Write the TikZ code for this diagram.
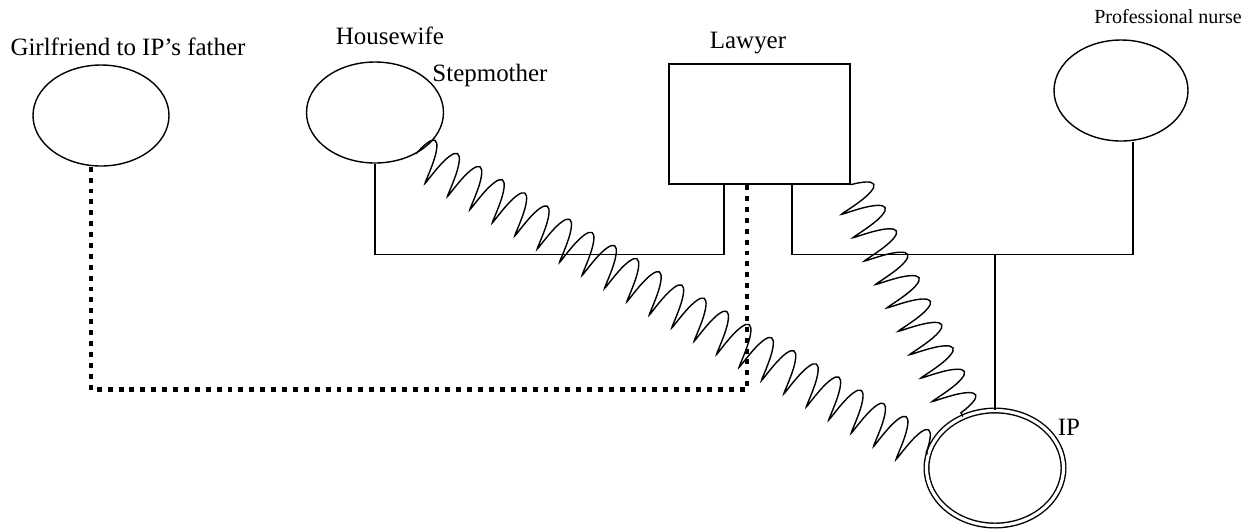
\documentclass[tikz,border=0pt]{standalone}
\usepackage{fontspec}
\setmainfont{Liberation Serif}
\usetikzlibrary{shapes.geometric,decorations.pathmorphing}

\begin{document}
\begin{tikzpicture}[
            per/.style={draw,ellipse,line width=0.8pt,inner sep=0pt},
            ml/.style={draw,rectangle,line width=0.8pt,inner sep=0pt},
            lab/.style={inner sep=0pt,font=\fontsize{14.2}{16}\selectfont},
            tie/.style={line width=0.8pt},
            dots/.style={line width=2.8pt,dash pattern=on 2.8pt off 3.4pt},
            coilln/.style={line width=0.8pt,decorate,
              decoration={coil,amplitude=0.42cm,segment length=0.52cm,aspect=0.15}}]

            \useasboundingbox (0,0) rectangle (25.06,-10.58);

            % the family members
            \node[per,minimum width=2.72cm,minimum height=2.02cm] (gf) at (2.02,-2.31) {};
            \node[per,minimum width=2.74cm,minimum height=2.02cm] (hw) at (7.5,-2.25) {};
            \node[ml,minimum width=3.62cm,minimum height=2.4cm] (law) at (15.19,-2.48) {};
            \node[per,minimum width=2.68cm,minimum height=2.02cm] (nurse) at (22.42,-1.81) {};
            \node[per,double,double distance=1.8pt,
                  minimum width=2.74cm,minimum height=2.3cm] (ip) at (19.9,-9.36) {};

            % their labels
            \node[lab] (gflab) at (2.56,-0.94) {Girlfriend to IP’s father};
            \node[lab] (hwlab) at (7.8,-0.72) {Housewife};
            \node[lab] (steplab) at (9.8,-1.5) {Stepmother};
            \node[lab] (lawlab) at (14.96,-0.86) {Lawyer};
            \node[lab,font=\fontsize{11.4}{13}\selectfont] (nurselab) at (23.36,-0.34) {Professional nurse};
            \node[lab] (iplab) at (21.38,-8.54) {IP};

            % marriages and the child line
            \draw[tie] (hw.south) -- ++(0,-1.81) -| ([xshift=-0.71cm]law.south);
            \draw[tie] ([xshift=0.65cm]law.south) -- ++(0,-1.39) -| ([xshift=0.24cm]nurse.south);
            \coordinate (kid) at (19.9,-5.07);
            \draw[line width=0.6pt] (kid) -- (ip.north);

            % affair
            \draw[dots] ([xshift=-0.2cm]gf.south) -- ++(0,-4.46) -| ([xshift=-0.25cm]law.south);

            % conflict
            \draw[coilln] (hw.-45) -- (ip.168);
            \draw[coilln] (law.south east) -- (ip.122);
        \end{tikzpicture}
\end{document}
